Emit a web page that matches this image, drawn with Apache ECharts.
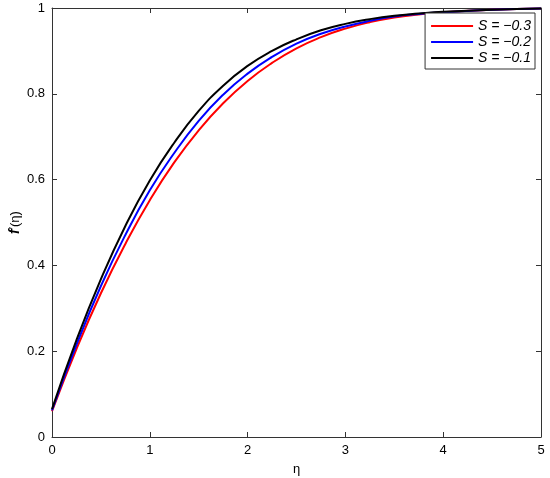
<!DOCTYPE html>
<html>
<head>
<meta charset="utf-8">
<script src="https://cdn.jsdelivr.net/npm/echarts@6/dist/echarts.min.js"></script>
<style>html,body{margin:0;padding:0;background:#fff}#c{width:550px;height:478px}</style>
</head>
<body>
<div id="c"></div>
<script>
const eta = [0, 0.25, 0.5, 0.75, 1.0, 1.25, 1.5, 1.75, 2.0, 2.25, 2.5, 2.75, 3.0, 3.25, 3.5, 3.75, 4.0, 4.5, 5.0];
const sMinus03 = [0.06, 0.205, 0.335, 0.45, 0.552, 0.64, 0.715, 0.778, 0.83, 0.872, 0.906, 0.932, 0.952, 0.967, 0.978, 0.985, 0.99, 0.996, 0.999];
const sMinus02 = [0.062, 0.215, 0.352, 0.471, 0.575, 0.662, 0.737, 0.798, 0.847, 0.886, 0.917, 0.94, 0.957, 0.97, 0.98, 0.986, 0.99, 0.996, 0.999];
const sMinus01 = [0.065, 0.226, 0.368, 0.492, 0.598, 0.686, 0.76, 0.819, 0.865, 0.9, 0.927, 0.948, 0.963, 0.974, 0.982, 0.987, 0.991, 0.996, 0.999];
const seriesNames = ['S = \u22120.3', 'S = \u22120.2', 'S = \u22120.1'];
const seriesColors = ['#ff0000', '#0000ff', '#000000'];
const xTicks = [0, 1, 2, 3, 4, 5];
const yTicks = [0, 0.2, 0.4, 0.6, 0.8, 1];

const values = [sMinus03, sMinus02, sMinus01];
const chart = echarts.init(document.getElementById('c'), null, {renderer: 'canvas'});
const font = 'Liberation Sans, Arial, Helvetica, sans-serif';
const axisCommon = {
  axisLine: {show: true, onZero: false, lineStyle: {color: '#333', width: 1}},
  axisTick: {show: true, inside: true, length: 5, lineStyle: {color: '#333'}},
  splitLine: {show: false}
};
chart.setOption({
  animation: false,
  backgroundColor: '#fff',
  grid: {left: 52, right: 9, top: 8, bottom: 41, containLabel: false, outerBoundsMode: 'none'},
  legend: {
    orient: 'vertical', right: 15, top: 13,
    backgroundColor: '#fff', borderColor: '#333', borderWidth: 1,
    padding: [6, 4, 4, 6], itemGap: 2, itemWidth: 42, itemHeight: 2, icon: 'rect',
    textStyle: {fontFamily: font, fontSize: 14, fontStyle: 'italic', color: '#000'},
    data: seriesNames
  },
  xAxis: [
    Object.assign({type: 'value', min: 0, max: 5, interval: 1, position: 'bottom',
      name: '\u03b7', nameLocation: 'middle', nameGap: 26, nameMoveOverlap: false,
      nameTextStyle: {fontFamily: font, fontSize: 13, color: '#000'},
      axisLabel: {fontFamily: font, fontSize: 13, color: '#000', margin: 7}}, axisCommon),
    Object.assign({type: 'value', min: 0, max: 5, interval: 1, position: 'top',
      axisLabel: {show: false}}, axisCommon)
  ],
  yAxis: [
    Object.assign({type: 'value', min: 0, max: 1, interval: 0.2, position: 'left',
      name: '{f|f}{p|\u2032}{e|(\u03b7)}', nameLocation: 'middle', nameGap: 30, nameRotate: 90,
      nameMoveOverlap: false,
      nameTextStyle: {rich: {
        f: {fontFamily: font, fontSize: 14, fontWeight: 'bold', fontStyle: 'italic', color: '#000'},
        p: {fontFamily: font, fontSize: 12, color: '#000'},
        e: {fontFamily: font, fontSize: 13, color: '#000'}
      }},
      axisLabel: {fontFamily: font, fontSize: 13, color: '#000', margin: 7,
        formatter: v => String(Math.round(v * 10) / 10)}}, axisCommon),
    Object.assign({type: 'value', min: 0, max: 1, interval: 0.2, position: 'right',
      axisLabel: {show: false}}, axisCommon)
  ],
  series: seriesNames.map((n, i) => ({
    name: n, type: 'line', smooth: true, symbol: 'none',
    lineStyle: {color: seriesColors[i], width: 2},
    itemStyle: {color: seriesColors[i]},
    data: eta.map((x, j) => [x, values[i][j]])
  }))
});
</script>
</body>
</html>
